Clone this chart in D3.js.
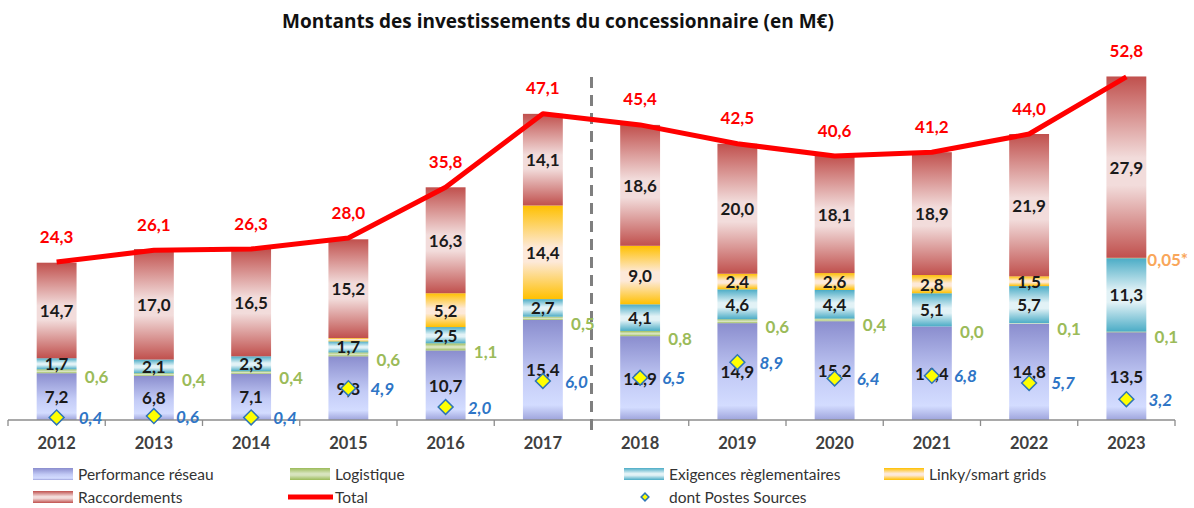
<!DOCTYPE html>
<html>
<head>
<meta charset="utf-8">
<script src="https://cdn.jsdelivr.net/npm/d3@7"></script>
<style>
  body { margin: 0; background: #fff; }
  svg text { font-family: Lato, "Open Sans", sans-serif; }
</style>
</head>
<body>
<svg id="chart" width="1194" height="508"></svg>
<script>
(function () {
  "use strict";

  var years = ["2012", "2013", "2014", "2015", "2016", "2017", "2018", "2019", "2020", "2021", "2022", "2023"];
  var performance = [7.2, 6.8, 7.1, 9.8, 10.7, 15.4, 12.9, 14.9, 15.2, 14.4, 14.8, 13.5];
  var logistique = [0.6, 0.4, 0.4, 0.6, 1.1, 0.5, 0.8, 0.6, 0.4, 0.0, 0.1, 0.1];
  var exigences = [1.7, 2.1, 2.3, 1.7, 2.5, 2.7, 4.1, 4.6, 4.4, 5.1, 5.7, 11.3];
  var linky = [0, 0, 0, 0.5, 5.2, 14.4, 9.0, 2.4, 2.6, 2.8, 1.5, 0.05];
  var raccordements = [14.7, 17.0, 16.5, 15.2, 16.3, 14.1, 18.6, 20.0, 18.1, 18.9, 21.9, 27.9];
  var totals = [24.3, 26.1, 26.3, 28.0, 35.8, 47.1, 45.4, 42.5, 40.6, 41.2, 44.0, 52.8];
  var postesSources = [0.4, 0.6, 0.4, 4.9, 2.0, 6.0, 6.5, 8.9, 6.4, 6.8, 5.7, 3.2];

  var series = [
    { key: "perf", name: "Performance réseau", values: performance, edge: "#8a8dce", mid: "#d3dcff", label: "inside" },
    { key: "log", name: "Logistique", values: logistique, edge: "#9bbb59", mid: "#d7e4bd", label: "outside" },
    { key: "exig", name: "Exigences règlementaires", values: exigences, edge: "#4bacc6", mid: "#e2f2f6", label: "inside" },
    { key: "linky", name: "Linky/smart grids", values: linky, edge: "#ffc000", mid: "#fde9d9", label: "inside" },
    { key: "racc", name: "Raccordements", values: raccordements, edge: "#c0504d", mid: "#f2dcdb", label: "inside" }
  ];

  function fr(v, digits) {
    return d3.format("." + (digits || 1) + "f")(v).replace(".", ",");
  }

  var svg = d3.select("#chart");
  var defs = svg.append("defs");

  series.forEach(function (s) {
    var g = defs.append("linearGradient")
      .attr("id", "grad-" + s.key)
      .attr("x1", 0).attr("y1", 0).attr("x2", 0).attr("y2", 1);
    var stops;
    if (s.key === "perf") {
      stops = [[0, s.edge], [0.55, "#c3cbf6"], [0.85, s.mid], [1, "#9ea4dc"]];
    } else {
      stops = [[0, s.edge], [0.45, s.mid], [0.6, s.mid], [1, s.edge]];
    }
    stops.forEach(function (st) {
      g.append("stop").attr("offset", st[0]).attr("stop-color", st[1]);
    });
  });

  var x = d3.scaleBand().domain(years).range([8, 1175]).paddingInner(0.59).paddingOuter(0.295);
  var y = d3.scaleLinear().domain([0, 60]).range([420, 30]);
  var cx = function (yr) { return x(yr) + x.bandwidth() / 2; };

  // title
  svg.append("text")
    .attr("x", 558).attr("y", 21)
    .attr("text-anchor", "middle").attr("dominant-baseline", "central")
    .style("font-family", "'Open Sans', sans-serif")
    .attr("font-size", 19).attr("font-weight", "bold").attr("fill", "#111")
    .text("Montants des investissements du concessionnaire (en M€)");

  // stacked bars
  var stackData = years.map(function (yr, i) {
    var row = { year: yr };
    series.forEach(function (s) { row[s.key] = s.values[i]; });
    return row;
  });
  var stacked = d3.stack().keys(series.map(function (s) { return s.key; }))(stackData);

  var barLayer = svg.append("g");
  stacked.forEach(function (layer, li) {
    barLayer.append("g")
      .selectAll("rect")
      .data(layer)
      .join("rect")
      .attr("x", function (d) { return x(d.data.year); })
      .attr("width", x.bandwidth())
      .attr("y", function (d) { return y(d[1]); })
      .attr("height", function (d) { return y(d[0]) - y(d[1]); })
      .attr("fill", "url(#grad-" + series[li].key + ")");
  });

  // axis
  var axisG = svg.append("g");
  axisG.append("line")
    .attr("x1", x.range()[0]).attr("x2", x.range()[1])
    .attr("y1", y(0)).attr("y2", y(0))
    .attr("stroke", "#8c8c8c").attr("stroke-width", 1.3);
  axisG.selectAll("line.tick")
    .data(d3.range(years.length + 1))
    .join("line")
    .attr("class", "tick")
    .attr("x1", function (i) { return x.range()[0] + i * x.step(); })
    .attr("x2", function (i) { return x.range()[0] + i * x.step(); })
    .attr("y1", y(0)).attr("y2", y(0) + 6)
    .attr("stroke", "#8c8c8c").attr("stroke-width", 1.3);

  var axisLabels = svg.append("g")
    .attr("transform", "translate(0," + y(0) + ")")
    .call(d3.axisBottom(x).tickSize(0).tickPadding(17));
  axisLabels.select(".domain").remove();
  axisLabels.selectAll("text")
    .attr("font-size", 16.5).attr("font-weight", "bold").attr("fill", "#404040");

  // dashed separator between 2017 and 2018
  var sepX = x.range()[0] + 6 * x.step();
  svg.append("line")
    .attr("x1", sepX).attr("x2", sepX)
    .attr("y1", 77).attr("y2", y(0) + 12)
    .attr("stroke", "#7f7f7f").attr("stroke-width", 3)
    .attr("stroke-dasharray", "11,7");

  // segment labels
  var labelLayer = svg.append("g").attr("font-weight", "bold").attr("font-size", 17);
  stacked.forEach(function (layer, li) {
    var s = series[li];
    var items = layer.filter(function (d) {
      if (s.key === "linky") return d.data.linky >= 1;
      return true;
    });
    labelLayer.selectAll("text.l" + s.key)
      .data(items)
      .join("text")
      .attr("class", "l" + s.key)
      .attr("x", function (d) { return s.label === "outside" ? cx(d.data.year) + 40 : cx(d.data.year); })
      .attr("y", function (d) {
        var mid = (y(d[0]) + y(d[1])) / 2;
        return s.label === "outside" ? mid + 5 : mid;
      })
      .attr("text-anchor", "middle")
      .attr("dominant-baseline", "central")
      .attr("fill", s.label === "outside" ? "#9bbb59" : "#1a1a1a")
      .text(function (d) { return fr(d.data[s.key]); });
  });

  // small linky value 2023
  var lastLinky = stacked[3][years.length - 1];
  labelLayer.append("text")
    .attr("x", x("2023") + x.bandwidth() + 1)
    .attr("y", y(lastLinky[1]) + 2)
    .attr("dominant-baseline", "central")
    .attr("fill", "#f9a65a")
    .text(fr(linky[years.length - 1], 2) + "*");

  // total line
  var line = d3.line()
    .x(function (d, i) { return cx(years[i]); })
    .y(function (d) { return y(d); });
  svg.append("path")
    .datum(totals)
    .attr("d", line)
    .attr("fill", "none")
    .attr("stroke", "#ff0000")
    .attr("stroke-width", 5)
    .attr("stroke-linejoin", "round");

  svg.append("g").selectAll("text")
    .data(totals)
    .join("text")
    .attr("x", function (d, i) { return cx(years[i]); })
    .attr("y", function (d) { return y(d) - 26; })
    .attr("text-anchor", "middle").attr("dominant-baseline", "central")
    .attr("font-size", 17).attr("font-weight", "bold").attr("fill", "#ff0000")
    .text(function (d) { return fr(d); });

  // postes sources diamonds
  var diamond = d3.symbol().type(d3.symbolSquare).size(110);
  svg.append("g").selectAll("path")
    .data(postesSources)
    .join("path")
    .attr("d", diamond)
    .attr("transform", function (d, i) { return "translate(" + cx(years[i]) + "," + y(d) + ") rotate(45)"; })
    .attr("fill", "#ffff00").attr("stroke", "#2e75b6").attr("stroke-width", 1.5);

  svg.append("g").selectAll("text")
    .data(postesSources)
    .join("text")
    .attr("x", function (d, i) { return cx(years[i]) + 22; })
    .attr("y", function (d) { return y(d); })
    .attr("dominant-baseline", "central")
    .attr("font-size", 17).attr("font-weight", "bold").attr("font-style", "italic")
    .attr("fill", "#2e75c6")
    .text(function (d) { return fr(d); });

  // legend
  var legend = svg.append("g").attr("font-size", 15.5).attr("fill", "#333");
  var legendItems = [
    { type: "rect", s: series[0], x: 33, y: 474 },
    { type: "rect", s: series[1], x: 290, y: 474 },
    { type: "rect", s: series[2], x: 624, y: 474 },
    { type: "rect", s: series[3], x: 884, y: 474 },
    { type: "rect", s: series[4], x: 33, y: 497 },
    { type: "line", name: "Total", x: 288, y: 497 },
    { type: "diamond", name: "dont Postes Sources", x: 624, y: 497 }
  ];
  legendItems.forEach(function (it) {
    var g = legend.append("g");
    if (it.type === "rect") {
      g.append("rect")
        .attr("x", it.x).attr("y", it.y - 6).attr("width", 40).attr("height", 12)
        .attr("fill", "url(#grad-" + it.s.key + ")");
    } else if (it.type === "line") {
      g.append("line")
        .attr("x1", it.x).attr("x2", it.x + 45).attr("y1", it.y).attr("y2", it.y)
        .attr("stroke", "#ff0000").attr("stroke-width", 5);
    } else {
      g.append("path")
        .attr("d", d3.symbol().type(d3.symbolSquare).size(30)())
        .attr("transform", "translate(" + (it.x + 21) + "," + it.y + ") rotate(45)")
        .attr("fill", "#ffff00").attr("stroke", "#2e75b6").attr("stroke-width", 1.5);
    }
    g.append("text")
      .attr("x", it.type === "line" ? it.x + 47 : it.x + 45)
      .attr("y", it.y)
      .attr("dominant-baseline", "central")
      .text(it.s ? it.s.name : it.name);
  });
})();
</script>
</body>
</html>
